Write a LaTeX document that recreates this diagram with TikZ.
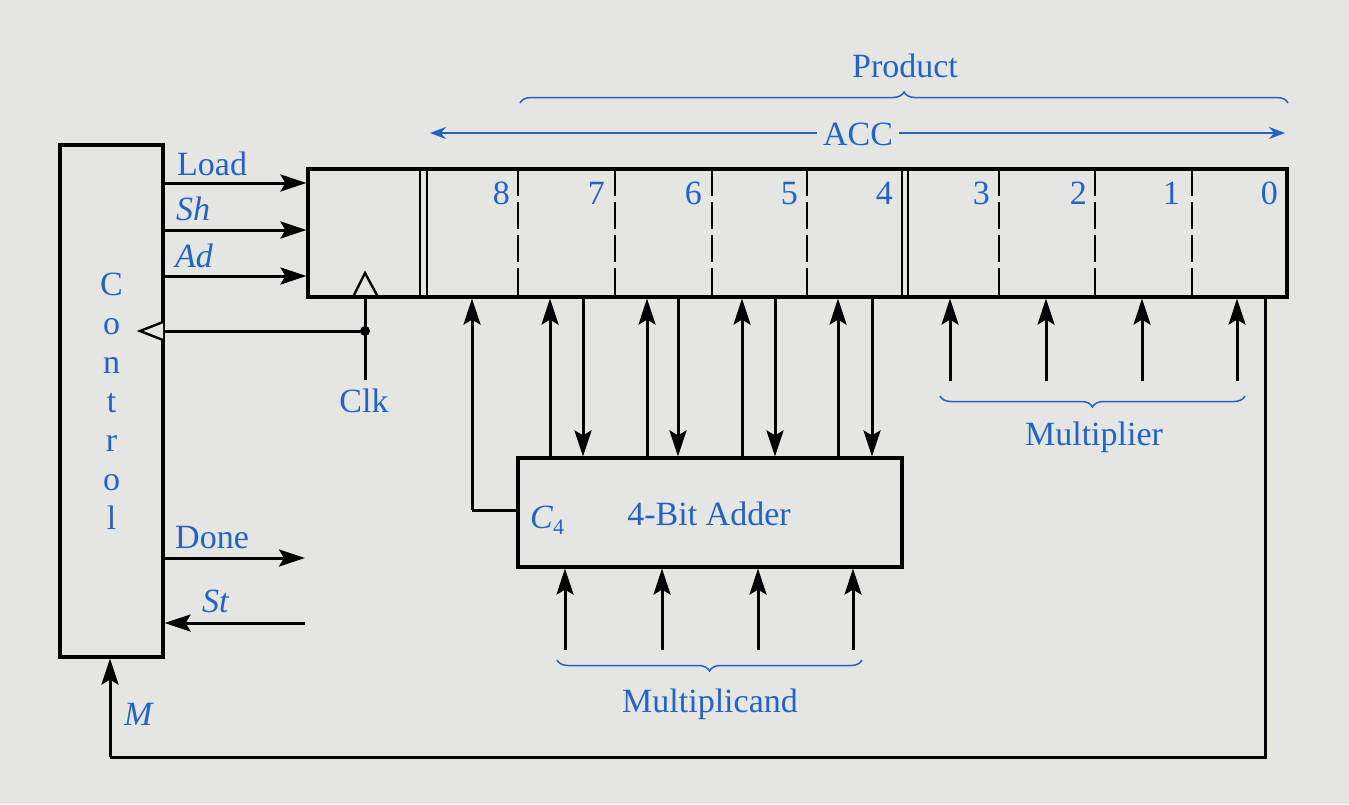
\documentclass[tikz,border=0pt]{standalone}
\usepackage{fontspec}
\setmainfont{Liberation Serif}
\usetikzlibrary{arrows.meta,decorations.pathreplacing,calc}
\definecolor{bg}{RGB}{229,229,225}
\definecolor{lbl}{RGB}{34,100,196}
\begin{document}
\begin{tikzpicture}[x=1pt,y=-1pt,
  wire/.style={line width=3pt,black},
  sig/.style={wire,-{Stealth[length=26pt,width=17pt,inset=5pt]}},
  lab/.style={text=lbl,font=\fontsize{34}{39}\selectfont,inner sep=0pt},
  box/.style={draw,line width=3.2pt,inner sep=0pt},
  brc/.style={draw=lbl,line width=1.5pt,decorate,decoration={brace,amplitude=11pt}},
  bluearrow/.style={draw=lbl,line width=2.2pt,-{Stealth[length=16pt,width=12pt]}},
  divider/.style={line width=2.6pt,black},
  dashdiv/.style={line width=2.8pt,black,dash pattern=on 27pt off 6pt}]

\fill[bg] (0,0) rectangle (1349,804);
\useasboundingbox (0,0) rectangle (1349,804);

% Control
\node[box,minimum width=103pt,minimum height=512pt,align=center,text=lbl,
      font=\fontsize{34}{39}\selectfont] (control) at (111.5,401) {C\\o\\n\\t\\r\\o\\l};

% Register
\node[box,minimum width=979pt,minimum height=128pt] (reg) at (797.5,233) {};
\foreach \x in {420,427,902,908}
  \draw[divider] (\x,169) -- (\x,297);
\foreach \x in {518,615,712,807,999,1095,1192}
  \draw[dashdiv] (\x,169) -- (\x,297);
\foreach \x/\d in {510/8,605/7,702/6,798/5,893/4,990/3,1087/2,1180/1,1278/0}
  \node[lab,anchor=base east] (d\d) at (\x,204) {\d};

% Adder
\node[box,minimum width=384pt,minimum height=109pt] (adder) at (710,512.5) {};
\node[lab,anchor=base west] (c4) at (530,528) {\textit{C}\raisebox{-6pt}{\fontsize{22}{24}\selectfont 4}};
\node[lab,anchor=base] (addlbl) at (709,525) {4-Bit Adder};

% Control signals
\draw[sig] (control.east |- 0,183) -- (reg.west |- 0,183);
\draw[sig] (control.east |- 0,230) -- (reg.west |- 0,230);
\draw[sig] (control.east |- 0,276) -- (reg.west |- 0,276);
\node[lab,anchor=base west] (load) at (177,175) {Load};
\node[lab,anchor=base west] (sh) at (176,220) {\textit{Sh}};
\node[lab,anchor=base west] (ad) at (175,267) {\textit{Ad}};

\coordinate (done end) at (305,558);
\coordinate (st start) at (305,623);
\draw[sig] (control.east |- done end) -- (done end);
\draw[sig] (st start) -- (control.east |- st start);
\node[lab,anchor=base west] (done) at (175,548) {Done};
\node[lab,anchor=base west] (st) at (202,612) {\textit{St}};

% Clock
\draw[line width=2.4pt] (353,297) -- (365,273) -- (378,297);
\node[lab,anchor=base] (clk) at (364,412) {Clk};
\coordinate (clkdot) at (365,331);
\draw[wire] (365,380) -- (reg.south -| clkdot);
\draw[wire] (clkdot) -- (control.east |- clkdot);
\fill (clkdot) circle (5pt);
\draw[line width=2.4pt,fill=bg] (163,322) -- (140,331) -- (163,340);

% Adder <-> register
\draw[wire] (adder.west |- 0,510) -- (472,510);
\draw[sig] (472,510) -- (reg.south -| 472,0);
\foreach \x in {550,647,742,838}
  \draw[sig] (adder.north -| \x,0) -- (reg.south -| \x,0);
\foreach \x in {583,678,775,872}
  \draw[sig] (reg.south -| \x,0) -- (adder.north -| \x,0);
\foreach \x in {565,662,758,853}
  \draw[sig] (\x,650) -- (adder.south -| \x,0);
\draw[brc] (862,660) -- (557,660);
\node[lab,anchor=base] (mcand) at (710,712) {Multiplicand};

% Multiplier
\foreach \x in {950,1046,1142,1237}
  \draw[sig] (\x,381) -- (reg.south -| \x,0);
\draw[brc] (1245,396) -- (940,396);
\node[lab,anchor=base] (mplier) at (1094,445) {Multiplier};

% M feedback
\draw[wire] (reg.south -| 1265,0) -- (1265,757) -- (110,757);
\draw[sig] (110,757) -- (control.south -| 110,0);
\node[lab,anchor=base west] (m) at (124,725) {\textit{M}};

% Product / ACC
\draw[brc] (520,103) -- (1288,103);
\node[lab,anchor=base] (product) at (905,77) {Product};
\node[lab,anchor=base,fill=bg,inner xsep=6pt] (acc) at (858,145) {ACC};
\draw[bluearrow] (acc.west |- 0,133) -- (430,133);
\draw[bluearrow] (acc.east |- 0,133) -- (1285,133);
\end{tikzpicture}
\end{document}
